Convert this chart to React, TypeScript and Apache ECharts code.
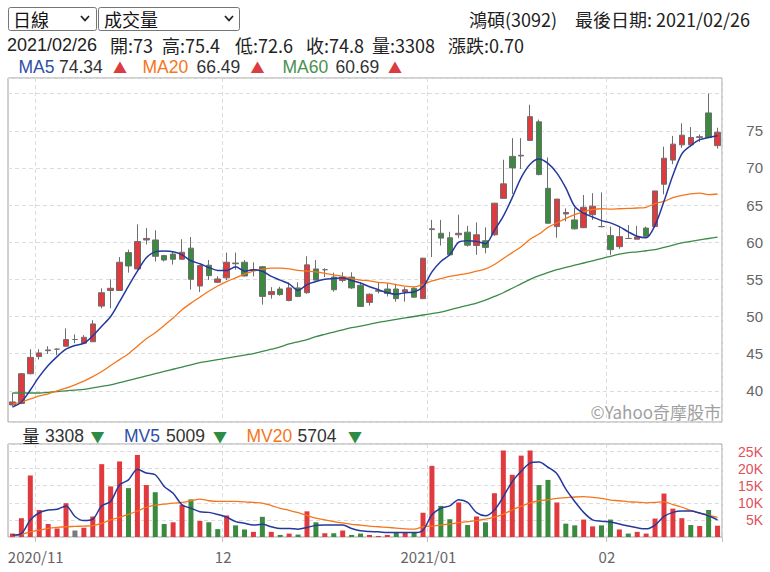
import React, { useEffect, useRef } from 'react';
import * as echarts from 'echarts';

// ---- trading days (category axis) ----
const octDays = [28, 29, 30];
const novDays = [2, 3, 4, 5, 6, 9, 10, 11, 12, 13, 16, 17, 18, 19, 20, 23, 24, 25, 26, 27, 30];
const decDays = [1, 2, 3, 4, 7, 8, 9, 10, 11, 14, 15, 16, 17, 18, 21, 22, 23, 24, 25, 28, 29, 30, 31];
const janDays = [4, 5, 6, 7, 8, 11, 12, 13, 14, 15, 18, 19, 20, 21, 22, 25, 26, 27, 28, 29];
const febDays = [1, 2, 3, 4, 5, 17, 18, 19, 22, 23, 24, 25, 26];
const pad = (d: number) => (d < 10 ? '0' + d : '' + d);
const dates: string[] = [
  ...octDays.map((d) => `2020/10/${pad(d)}`),
  ...novDays.map((d) => `2020/11/${pad(d)}`),
  ...decDays.map((d) => `2020/12/${pad(d)}`),
  ...janDays.map((d) => `2021/01/${pad(d)}`),
  ...febDays.map((d) => `2021/02/${pad(d)}`),
];
const xTickLabels = ['2020/11', '12', '2021/01', '02'];

// ---- prices ----
const opens = [38.1, 38.3, 42.3, 44.6, 45.4, 45.6, 46.0, 46.9, 46.4, 46.6, 51.4, 53.5, 53.5, 58.6, 56.4, 60.3, 60.3, 58.2, 58.4, 57.7,
  59.2, 54.1, 56.9, 54.6, 55.2, 57.1, 57.3, 56.2, 56.7, 52.95, 53.7, 52.15, 53.85, 53.2, 56.4, 56.3, 55.3, 54.85, 55.3, 54.2,
  51.9, 53.4, 53.7, 53.7, 53.3, 53.8, 52.4, 61.7, 61.2, 60.6, 61.0, 61.35, 59.55, 60.2, 61.0, 65.9, 71.55, 71.6, 73.7, 76.2,
  67.25, 62.1, 63.8, 63.0, 61.95, 63.7, 62.1, 60.9, 59.4, 60.5, 60.4, 61.9, 62.1, 67.8, 71.05, 73.1, 73.1, 74.1, 77.4, 73];
const highs = [39.7, 42.4, 45.6, 45.6, 46.0, 45.7, 48.4, 47.6, 47.5, 49.5, 53.8, 55.0, 58.0, 59.0, 62.4, 61.9, 61.6, 58.3, 58.8, 60.4,
  60.7, 56.9, 57.6, 55.4, 58.6, 58.6, 57.6, 57.3, 56.8, 53.95, 54.0, 54.6, 54.6, 58.1, 57.6, 56.5, 55.9, 55.95, 55.95, 54.6,
  53.1, 54.6, 54.5, 54.4, 53.95, 53.95, 57.9, 63.0, 63.0, 61.4, 63.7, 62.2, 62.65, 62.0, 65.3, 71.1, 74.0, 74.0, 78.5, 76.5,
  71.4, 65.8, 64.55, 64.6, 66.35, 66.6, 66.7, 62.1, 62.1, 62.3, 62.2, 62.1, 66.9, 72.85, 74.3, 76.0, 75.5, 74.5, 80.0, 75.4];
const lows = [37.9, 38.2, 42.2, 44.2, 44.95, 44.8, 45.9, 46.4, 46.3, 46.6, 51.1, 51.1, 53.5, 55.9, 56.3, 59.7, 57.4, 57.4, 57.0, 57.6,
  53.6, 53.3, 54.9, 54.5, 54.9, 56.3, 55.4, 55.4, 51.6, 52.4, 52.8, 52.05, 52.6, 53.05, 54.85, 55.3, 53.35, 54.6, 53.7, 51.3,
  51.45, 53.1, 52.7, 52.0, 52.0, 52.5, 52.4, 58.0, 59.55, 58.3, 60.55, 59.4, 58.3, 58.5, 60.85, 65.9, 66.5, 69.85, 73.7, 69.0,
  62.5, 60.6, 62.8, 61.7, 61.9, 63.0, 62.0, 58.3, 59.1, 60.45, 60.4, 60.6, 62.0, 66.45, 70.5, 72.7, 72.85, 73.5, 74.0, 72.6];
const closes = [38.5, 42.3, 44.5, 45.1, 45.5, 45.6, 46.9, 46.9, 47.2, 49.0, 53.2, 53.8, 57.3, 56.8, 60.1, 60.5, 58.1, 57.6, 57.7, 58.65,
  55.0, 56.85, 55.5, 55.05, 57.3, 57.2, 55.45, 56.3, 52.7, 53.35, 52.95, 53.85, 52.7, 56.95, 54.9, 56.3, 53.6, 55.3, 53.85, 51.35,
  53.0, 53.5, 53.1, 52.4, 53.6, 52.6, 57.85, 61.8, 60.55, 58.3, 61.2, 59.6, 61.0, 59.3, 65.25, 67.85, 70.0, 71.7, 76.9, 69.1,
  62.55, 65.8, 64.0, 61.8, 64.7, 64.85, 62.1, 59.0, 60.75, 60.5, 60.7, 60.8, 66.9, 71.3, 73.2, 74.4, 74.1, 74.2, 74.1, 74.8];

// ---- moving averages ----
const ma5 = [37.8, 38.5, 40.1, 41.9, 43.4, 44.6, 45.6, 46.1, 46.4, 47.4, 48.7, 50.0, 52.0, 54.1, 56.1, 57.9, 58.7, 58.8, 58.7, 58.3,
  57.5, 57.1, 56.6, 56.2, 56.2, 56.7, 56.1, 56.3, 56.1, 55.4, 54.9, 54.4, 53.5, 54.3, 54.7, 55.0, 55.1, 55.2, 54.85, 54.5,
  54.0, 53.6, 53.2, 53.0, 53.2, 53.3, 54.0, 56.0, 57.4, 58.3, 60.0, 60.2, 60.1, 59.8, 61.6, 63.5, 66.0, 68.7, 70.5, 71.2,
  70.6, 69.3, 67.3, 64.8, 63.9, 63.4, 62.9, 62.6, 62.1, 61.4, 60.8, 60.6, 62.3, 65.5, 69.0, 71.9, 73.0, 73.8, 74.1, 74.34];
const ma20 = [38.2, 38.5, 38.9, 39.3, 39.6, 40.0, 40.35, 40.8, 41.3, 41.9, 42.6, 43.4, 44.2, 45.0, 46.0, 47.0, 47.8, 48.8, 49.8, 50.9,
  51.8, 52.6, 53.4, 54.1, 54.7, 55.2, 55.7, 56.1, 56.35, 56.5, 56.5, 56.4, 56.2, 56.1, 56.0, 55.8, 55.6, 55.4, 55.1, 54.9,
  54.8, 54.6, 54.5, 54.3, 54.1, 54.0, 54.3, 54.8, 55.1, 55.4, 55.6, 55.8, 56.1, 56.4, 57.0, 57.8, 58.6, 59.4, 60.4, 61.1,
  62.0, 62.6, 63.2, 63.7, 64.1, 64.4, 64.5, 64.45, 64.5, 64.55, 64.6, 64.7, 65.2, 65.5, 66.0, 66.3, 66.5, 66.6, 66.4, 66.49];
const ma60 = [39.7, 39.7, 39.7, 39.7, 39.8, 39.9, 40.0, 40.1, 40.2, 40.4, 40.6, 40.8, 41.1, 41.4, 41.7, 42.0, 42.3, 42.6, 42.9, 43.2,
  43.5, 43.8, 44.0, 44.2, 44.4, 44.6, 44.8, 45.0, 45.3, 45.6, 45.9, 46.3, 46.6, 46.9, 47.3, 47.6, 47.9, 48.2, 48.5, 48.7,
  48.95, 49.2, 49.4, 49.6, 49.8, 50.0, 50.2, 50.4, 50.6, 50.9, 51.2, 51.5, 51.8, 52.2, 52.7, 53.2, 53.8, 54.4, 55.0, 55.5,
  55.9, 56.3, 56.6, 56.9, 57.2, 57.5, 57.8, 58.1, 58.4, 58.6, 58.7, 58.85, 59.0, 59.3, 59.6, 59.9, 60.1, 60.3, 60.5, 60.69];

// ---- volume (lots) ----
const volumes = [1000, 5500, 18000, 7900, 3800, 2500, 9900, 1900, 2700, 6000, 21300, 14800, 22100, 14300, 24000, 15200, 13100, 3800, 4300, 9400,
  11000, 4700, 4300, 2300, 6300, 3400, 2200, 1500, 5900, 1500, 600, 1000, 700, 7500, 4300, 1100, 1100, 1900, 600, 1000,
  600, 300, 600, 1300, 1300, 1300, 7100, 20800, 9100, 5200, 10100, 3500, 6000, 4300, 12800, 25300, 18200, 23800, 25300, 15200,
  16700, 10100, 3900, 3400, 5100, 3100, 3400, 5100, 2200, 1000, 1500, 1000, 5400, 12700, 8300, 5500, 3500, 3200, 7900, 3308];
// 1 = up (red), -1 = down (green), 0 = flat (grey)
const volDir = [1, 1, 1, 1, 1, 1, 1, 0, 1, 1, 1, 1, 1, -1, 1, 1, -1, -1, 1, 1,
  -1, 1, -1, -1, 1, -1, -1, 1, -1, 1, -1, 1, -1, 1, -1, 1, -1, 1, -1, -1,
  1, 1, 1, -1, 1, -1, 1, 1, -1, -1, 1, -1, 1, -1, 1, 1, 1, 1, 1, -1,
  -1, 1, -1, -1, 1, 1, -1, -1, 1, -1, 1, 1, 1, 1, 1, 1, -1, 1, -1, 1];
const mv5 = [600, 1000, 5000, 7100, 7900, 8100, 9100, 6000, 4800, 5200, 9100, 10400, 15200, 16700, 19800, 18700, 18200, 14800, 12800, 9400,
  8400, 7400, 7200, 6600, 5800, 4500, 4000, 3500, 3700, 3000, 2500, 2500, 2300, 2800, 3400, 3500, 3500, 3500, 2500, 1800,
  1600, 1500, 1300, 1300, 1300, 1300, 2000, 6500, 8400, 9100, 10900, 10100, 7100, 6200, 7900, 11800, 16200, 19200, 21600, 21900,
  20400, 18500, 14000, 10400, 7200, 5000, 4600, 4400, 3800, 3200, 2700, 2400, 3500, 6000, 7200, 7600, 7600, 7000, 6200, 5009];
const mv20 = [300, 800, 1500, 2000, 2500, 2800, 3000, 3100, 3200, 3300, 4000, 5000, 5800, 6600, 7600, 8700, 9300, 9600, 9900, 10100,
  10600, 11100, 10600, 10400, 10400, 10400, 10300, 10100, 9900, 9200, 8400, 7800, 7100, 6300, 5500, 5000, 4500, 4100, 3700, 3500,
  3200, 3000, 2800, 2600, 2400, 2300, 3000, 3200, 3500, 3800, 4200, 4500, 4800, 5200, 5800, 6700, 7900, 9000, 10000, 10600,
  10900, 11300, 11500, 11700, 11800, 11600, 11300, 10800, 10600, 10300, 10200, 10000, 10100, 10300, 9500, 8700, 7800, 7000, 6400, 5704];

const priceTicks = [40, 45, 50, 55, 60, 65, 70, 75];
const volTicks = [5000, 10000, 15000, 20000, 25000];
const volTickLabels = ['5K', '10K', '15K', '20K', '25K'];
const maLabels = ['MA5', 'MA20', 'MA60'];
const mvLabels = ['量', 'MV5', 'MV20'];

const stockName = '鴻碩(3092)';

const RED = '#e0393e';
const GREEN = '#3a8a3f';
const GREY = '#7a7a7a';
const BLUE = '#24399c';
const ORANGE = '#f5761a';
const MAGREEN = '#3a8a48';
const FONT = "'Noto Sans CJK TC', sans-serif";
const LAT = "'Liberation Sans', 'Noto Sans CJK TC', sans-serif";

export default function App() {
  const ref = useRef<HTMLDivElement>(null);
  useEffect(() => {
    document.body.style.margin = '0';
    if (!ref.current) return;
    const chart = echarts.init(ref.current, undefined, { renderer: 'svg' });
    const n = dates.length;
    const last = n - 1;
    const monthStart = new Set<number>();
    for (let i = 1; i < n; i++) {
      if (dates[i].slice(0, 7) !== dates[i - 1].slice(0, 7)) monthStart.add(i);
    }
    const starts = Array.from(monthStart).sort((a, b) => a - b);
    const isStart = (i: number) => monthStart.has(i);
    const labelOf = (i: number) => {
      const k = starts.indexOf(i);
      return k >= 0 ? xTickLabels[k] : '';
    };
    const up = (a: number[]) => a[last] >= a[last - 1];
    const change = (closes[last] - closes[last - 1]).toFixed(2);

    const dash = { color: '#dcdcdc', type: [4, 3] as any, width: 1 };
    const tok = (x: number, y: number, text: string, fill: string, size: number, font: string) => ({
      type: 'text', x, y, style: { text, fill, fontSize: size, fontFamily: font, verticalAlign: 'middle' },
    });
    const arrowTok = (x: number, y: number, a: number[]) =>
      tok(x, y, up(a) ? '▲' : '▼', up(a) ? '#dc3c40' : '#2e8b45', 14, FONT);

    const row2 = [
      dates[last], `開:${opens[last]}`, `高:${highs[last]}`, `低:${lows[last]}`,
      `收:${closes[last]}`, `量:${volumes[last]}`, `漲跌:${change}`,
    ];
    const row2X = [7, 110, 162, 235, 306, 372, 448];

    const maSeries = [ma5, ma20, ma60];
    const maColors = ['#3050a8', ORANGE, '#4a9050'];
    const maX = [[18.5, 59, 113], [142.5, 196.5, 250.5], [282.5, 335.5, 388]];
    const mvSeries = [volumes, mv5, mv20];
    const mvColors = ['#222', '#3050a8', ORANGE];
    const mvX = [[22.5, 45, 90.5], [124, 166, 213], [246.5, 297.5, 348]];

    const legendTokens: any[] = [];
    maSeries.forEach((s, k) => {
      legendTokens.push(tok(maX[k][0], 67, maLabels[k], maColors[k], 17.5, LAT));
      legendTokens.push(tok(maX[k][1], 67, s[last].toFixed(2), '#333', 17.5, LAT));
      legendTokens.push(arrowTok(maX[k][2], 67, s));
    });
    mvSeries.forEach((s, k) => {
      legendTokens.push(tok(mvX[k][0], 435.5, mvLabels[k], mvColors[k], k === 0 ? 17 : 17.5, k === 0 ? FONT : LAT));
      legendTokens.push(tok(mvX[k][1], 435.5, String(s[last]), '#333', 17.5, LAT));
      legendTokens.push(arrowTok(mvX[k][2], 435.5, s));
    });

    chart.setOption({
      animation: false,
      textStyle: { fontFamily: FONT },
      grid: [
        { left: 8, right: 48, top: 78, height: 344, show: true, borderColor: '#a0a0a0', borderWidth: 1 },
        { left: 8, right: 48, top: 444, height: 93, show: true, borderColor: '#a0a0a0', borderWidth: 1 },
      ],
      xAxis: [
        {
          type: 'category', gridIndex: 0, data: dates, boundaryGap: true,
          axisLine: { show: false }, axisTick: { show: false }, axisLabel: { show: false },
          splitLine: { show: true, interval: (i: number) => isStart(i), lineStyle: dash },
        },
        {
          type: 'category', gridIndex: 1, data: dates, boundaryGap: true,
          axisLine: { show: false },
          axisTick: { show: true, interval: (i: number) => isStart(i), length: 5, lineStyle: { color: '#c0c0c0' } },
          axisLabel: {
            show: true, interval: (i: number) => isStart(i), formatter: (_v: string, i: number) => labelOf(i),
            color: '#666', fontSize: 15, margin: 12, fontFamily: FONT, padding: [0, 7, 0, 0],
          },
          splitLine: { show: true, interval: (i: number) => isStart(i), lineStyle: dash },
        },
      ],
      yAxis: [
        {
          type: 'value', gridIndex: 0, position: 'right', min: 35.8, max: 82.1, minInterval: 5, maxInterval: 5,
          axisLine: { show: false }, axisTick: { show: false },
          axisLabel: {
            color: '#666', fontSize: 15, align: 'right', margin: 41, fontFamily: LAT,
            formatter: (v: number) => (priceTicks.includes(Math.round(v * 100) / 100) ? String(v) : ''),
          },
          splitLine: { show: true, lineStyle: dash },
        },
        {
          type: 'value', gridIndex: 1, position: 'right', min: 0, max: 27200, interval: 5000,
          axisLine: { show: false }, axisTick: { show: false },
          axisLabel: {
            color: '#e0515a', fontSize: 14, align: 'right', margin: 41, fontFamily: LAT, lineHeight: 14,
            formatter: (v: number) => {
              const k = volTicks.indexOf(v);
              return k >= 0 ? volTickLabels[k] : '';
            },
          },
          splitLine: { show: true, lineStyle: dash },
        },
      ],
      series: [
        {
          type: 'candlestick', xAxisIndex: 0, yAxisIndex: 0, barWidth: 6,
          data: opens.map((o, i) => [o, closes[i], lows[i], highs[i]]),
          itemStyle: { color: RED, color0: GREEN, borderColor: '#6e6e6e', borderColor0: '#6e6e6e', borderWidth: 1 },
        },
        { type: 'line', xAxisIndex: 0, yAxisIndex: 0, data: ma60, showSymbol: false, smooth: 0.3, lineStyle: { color: MAGREEN, width: 1.3 } },
        { type: 'line', xAxisIndex: 0, yAxisIndex: 0, data: ma20, showSymbol: false, smooth: 0.3, lineStyle: { color: ORANGE, width: 1.3 } },
        { type: 'line', xAxisIndex: 0, yAxisIndex: 0, data: ma5, showSymbol: false, smooth: 0.3, lineStyle: { color: BLUE, width: 1.5 } },
        {
          type: 'bar', xAxisIndex: 1, yAxisIndex: 1, barWidth: 5,
          data: volumes.map((v, i) => ({ value: v, itemStyle: { color: volDir[i] > 0 ? RED : volDir[i] < 0 ? GREEN : GREY } })),
        },
        { type: 'line', xAxisIndex: 1, yAxisIndex: 1, data: mv20, showSymbol: false, smooth: 0.3, lineStyle: { color: ORANGE, width: 1.3 } },
        { type: 'line', xAxisIndex: 1, yAxisIndex: 1, data: mv5, showSymbol: false, smooth: 0.3, lineStyle: { color: BLUE, width: 1.5 } },
      ],
      graphic: [
        { type: 'rect', shape: { x: 8.5, y: 7.5, width: 88, height: 23, r: 2 }, style: { fill: '#fff', stroke: '#767676', lineWidth: 1 } },
        { type: 'text', x: 13, y: 19, style: { text: '日線', fontSize: 18, fill: '#111', fontFamily: FONT, verticalAlign: 'middle' } },
        { type: 'polyline', shape: { points: [[81, 16], [85, 20.5], [89, 16]] }, style: { stroke: '#222', lineWidth: 1.8, fill: null } },
        { type: 'rect', shape: { x: 98.5, y: 7.5, width: 141, height: 23, r: 2 }, style: { fill: '#fff', stroke: '#767676', lineWidth: 1 } },
        { type: 'text', x: 104, y: 19, style: { text: '成交量', fontSize: 18, fill: '#111', fontFamily: FONT, verticalAlign: 'middle' } },
        { type: 'polyline', shape: { points: [[225, 16], [229, 20.5], [233, 16]] }, style: { stroke: '#222', lineWidth: 1.8, fill: null } },
        tok(469, 19, stockName, '#222', 18, FONT),
        tok(575, 19, `最後日期: ${dates[last]}`, '#222', 18, FONT),
        tok(row2X[0], 45, row2[0], '#222', 18, LAT),
        ...row2.slice(1).map((t, k) => tok(row2X[k + 1], 45, t, '#222', 18, FONT)),
        ...legendTokens,
        {
          type: 'text', x: 721, y: 411, z: 10,
          style: { text: '©Yahoo奇摩股市', fontSize: 17, fill: '#a0a0a0', fontFamily: FONT, align: 'right', verticalAlign: 'middle' },
        },
      ],
    });
    return () => chart.dispose();
  }, []);
  return <div ref={ref} style={{ width: 770, height: 572 }} />;
}
